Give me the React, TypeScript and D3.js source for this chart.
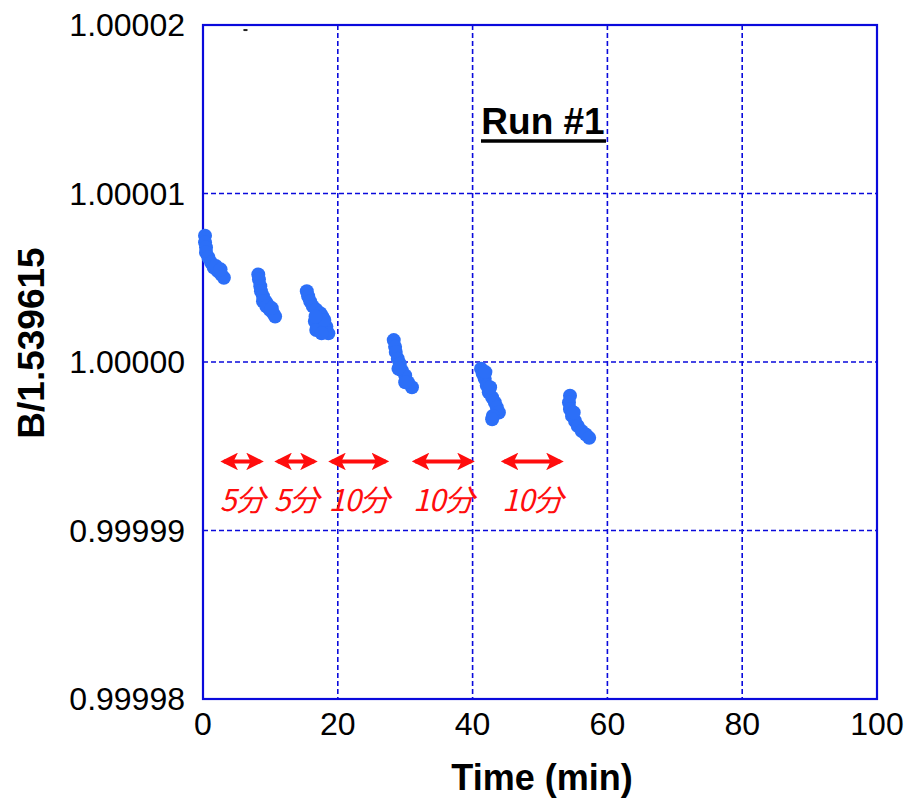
import React from "react";
import * as d3 from "d3";

// measured points, grouped by measurement block (time in min, B/1.539615)
const seg1Time = [0.3, 0.3, 0.45, 0.45, 0.8, 1.2, 1.6, 2.2, 2.7, 3.1, 1.9, 2.6];
const seg1Value = [1.0000075, 1.0000071, 1.0000068, 1.0000065, 1.0000062, 1.0000059, 1.0000056, 1.0000054, 1.0000052, 1.000005, 1.0000057, 1.0000055];
const seg2Time = [8.2, 8.3, 8.5, 8.6, 8.9, 9.3, 9.6, 9.9, 10.4, 10.7, 8.9, 9.4, 10.2];
const seg2Value = [1.0000052, 1.0000049, 1.0000045, 1.0000042, 1.0000039, 1.0000036, 1.0000034, 1.0000031, 1.0000029, 1.0000027, 1.0000036, 1.0000033, 1.0000032];
const seg3Time = [15.4, 15.6, 15.9, 16.3, 16.8, 17.4, 17.7, 16.6, 17.2, 18.3, 18.6, 16.8, 17.6, 18.0, 16.7];
const seg3Value = [1.0000042, 1.0000039, 1.0000036, 1.0000033, 1.0000031, 1.0000029, 1.0000027, 1.0000024, 1.0000022, 1.0000021, 1.0000017, 1.0000019, 1.0000017, 1.0000025, 1.0000027];
const seg4Time = [28.3, 28.5, 28.6, 28.9, 29.2, 29.5, 30.0, 30.4, 31.0, 30.0, 29.0];
const seg4Value = [1.0000013, 1.0000009, 1.0000006, 1.0000002, 0.9999999, 0.9999995, 0.9999992, 0.9999988, 0.9999985, 0.9999988, 0.9999996];
const seg5Time = [41.25, 41.5, 41.8, 42.1, 42.4, 42.9, 43.3, 43.6, 43.9, 43.0, 42.9, 41.9, 42.6];
const seg5Value = [0.9999996, 0.9999993, 0.999999, 0.9999986, 0.9999982, 0.9999979, 0.9999976, 0.9999973, 0.999997, 0.9999968, 0.9999966, 0.9999994, 0.9999985];
const seg6Time = [54.45, 54.3, 54.45, 54.75, 55.2, 55.6, 56.2, 56.8, 57.3, 55.0];
const seg6Value = [0.999998, 0.9999976, 0.9999972, 0.9999968, 0.9999965, 0.9999962, 0.9999959, 0.9999957, 0.9999955, 0.999997];

// interval arrows
const arrowStart = [2.8, 10.8, 18.8, 31.2, 44.4];
const arrowEnd = [8.8, 16.8, 27.4, 40.1, 53.3];
const arrowLabels = ["5分", "5分", "10分", "10分", "10分"];
const arrowLevel = 0.9999941;
const arrowLabelLevel = 0.9999918;

const xTicks = [0, 20, 40, 60, 80, 100];
const yTicks = [0.99998, 0.99999, 1.0, 1.00001, 1.00002];

const W = 905;
const H = 806;
const left = 203;
const right = 877;
const top = 25;
const bottom = 699;

export default function App() {
  const x = d3.scaleLinear().domain([0, 100]).range([left, right]);
  const y = d3.scaleLinear().domain([0.99998, 1.00002]).range([bottom, top]);

  const segs = [
    [seg1Time, seg1Value],
    [seg2Time, seg2Value],
    [seg3Time, seg3Value],
    [seg4Time, seg4Value],
    [seg5Time, seg5Value],
    [seg6Time, seg6Value],
  ];
  const points = segs.flatMap(([t, v]) => t.map((tt, i) => ({ t: tt, v: v[i] })));

  const blue = "#0a0adc";
  const red = "#ff0d0d";

  return (
    <svg
      width={W}
      height={H}
      style={{ position: "absolute", left: 0, top: 0, background: "#fff" }}
      fontFamily="Liberation Sans, Arial, sans-serif"
    >
      <defs>
        <marker
          id="head"
          viewBox="0 0 10 10"
          refX="8"
          refY="5"
          markerWidth="4.4"
          markerHeight="4.4"
          orient="auto-start-reverse"
        >
          <path d="M0,0 L10,5 L0,10 L2.5,5 Z" fill={red} />
        </marker>
      </defs>

      {/* grid */}
      {xTicks.slice(1, -1).map((t) => (
        <line key={"gx" + t} x1={x(t)} x2={x(t)} y1={top} y2={bottom}
          stroke={blue} strokeWidth={1.6} strokeDasharray="5,3" />
      ))}
      {yTicks.slice(1, -1).map((t) => (
        <line key={"gy" + t} x1={left} x2={right} y1={y(t)} y2={y(t)}
          stroke={blue} strokeWidth={1.6} strokeDasharray="5,3" />
      ))}
      <rect x={left} y={top} width={right - left} height={bottom - top}
        fill="none" stroke={blue} strokeWidth={2.2} />

      {/* stray mark near top */}
      <line x1={x(6)} x2={x(6.6)} y1={y(1.0000197)} y2={y(1.0000197)} stroke="#222" strokeWidth={2} />

      {/* points */}
      {points.map((p, i) => (
        <circle key={i} cx={x(p.t)} cy={y(p.v)} r={7} fill="#2c6ff8" />
      ))}

      {/* arrows */}
      {arrowStart.map((s, i) => {
        const e = arrowEnd[i];
        return (
          <g key={"a" + i}>
            <line x1={x(s) + 2} x2={x(e) - 2} y1={y(arrowLevel)} y2={y(arrowLevel)}
              stroke={red} strokeWidth={4} markerStart="url(#head)" markerEnd="url(#head)" />
            <text x={(x(s) + x(e)) / 2} y={y(arrowLabelLevel) + 11} textAnchor="middle"
              fill={red} fontSize={30} fontStyle="italic"
              fontFamily="Noto Sans CJK JP, sans-serif" letterSpacing={-1}>
              {arrowLabels[i]}
            </text>
          </g>
        );
      })}

      {/* title */}
      <text x={543} y={134} textAnchor="middle" fontSize={37} fontWeight="bold" fill="#000">
        Run #1
      </text>
      <line x1={481} x2={606} y1={141} y2={141} stroke="#000" strokeWidth={3.5} />

      {/* y ticks */}
      {yTicks.map((t) => (
        <text key={"yt" + t} x={185} y={y(t) + 11} textAnchor="end" fontSize={32} fill="#000">
          {d3.format(".5f")(t)}
        </text>
      ))}
      {/* x ticks */}
      {xTicks.map((t) => (
        <text key={"xt" + t} x={x(t)} y={735} textAnchor="middle" fontSize={32} fill="#000">
          {t}
        </text>
      ))}

      <text x={(left + right) / 2 + 2} y={790} textAnchor="middle" fontSize={36} fontWeight="bold" fill="#000">
        Time (min)
      </text>
      <text transform={`translate(44,343) rotate(-90)`} textAnchor="middle" fontSize={37} fontWeight="bold" fill="#000">
        B/1.539615
      </text>
    </svg>
  );
}
